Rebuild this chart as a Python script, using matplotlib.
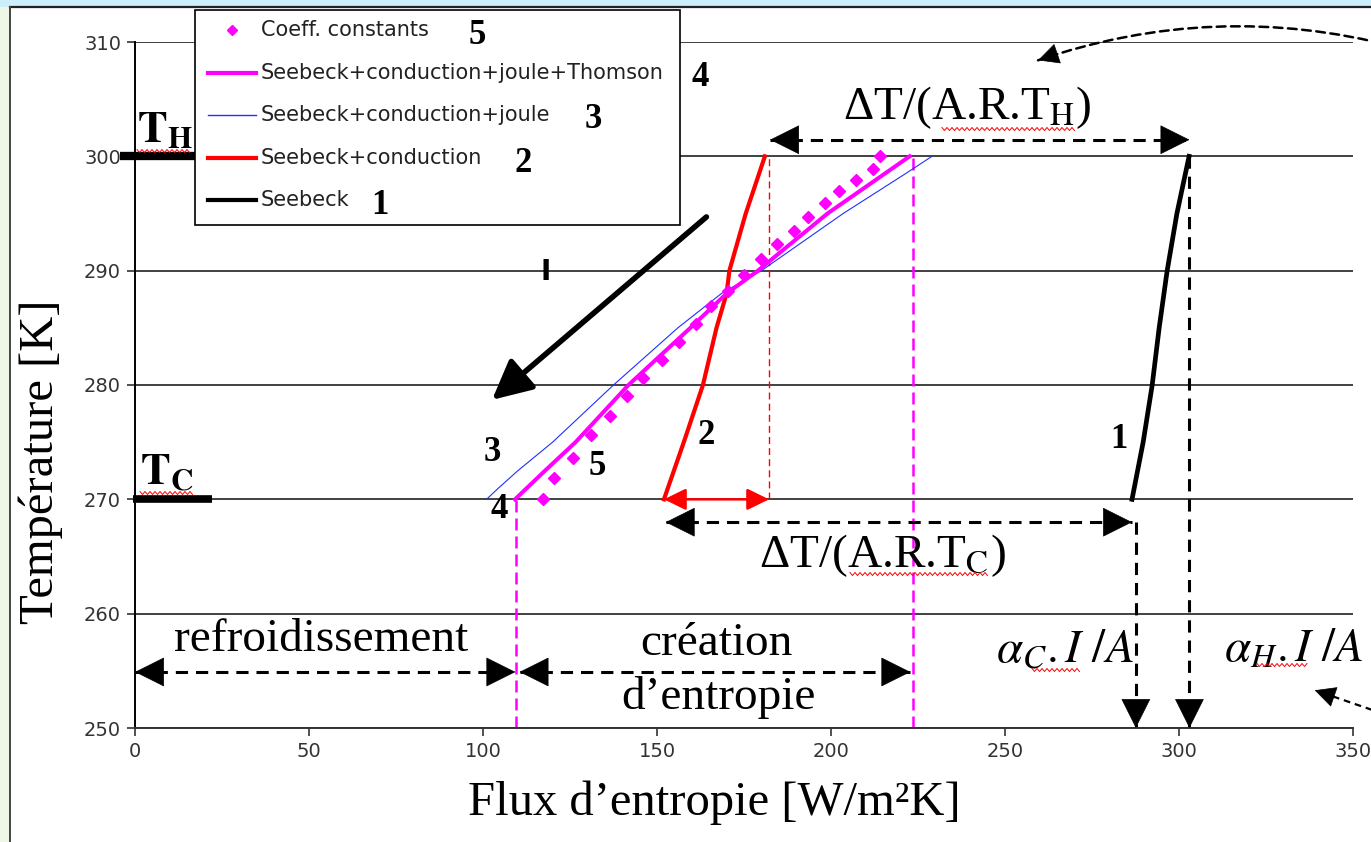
import numpy as np
import matplotlib.pyplot as plt
from matplotlib.patches import Rectangle
from matplotlib.lines import Line2D

plt.rcParams['mathtext.fontset'] = 'stix'

W, H = 1371, 842
SERIF = 'Liberation Serif'

# entropy flux [W/m2K] against temperature [K] for each model
t_seebeck = [270, 275, 280, 285, 290, 295, 300]
s_seebeck = [286.5, 289.7, 292.3, 294.3, 296.6, 299.4, 302.9]

t_cond = [270, 275, 280, 285, 288, 290, 295, 300]
s_cond = [152.0, 157.7, 163.2, 167.1, 170.0, 170.8, 175.5, 181.0]

t_joule = [270, 271, 272.5, 275, 280, 285, 288, 290, 295, 298.5, 300]
s_joule = [101.0, 104.5, 110.0, 120.0, 137.5, 156.0, 168.5, 180.0, 203.5, 221.5, 229.0]

t_thomson = [270, 272.5, 275, 280, 285, 288, 290, 295, 300]
s_thomson = [109.2, 117.8, 126.6, 141.8, 159.6, 170.0, 179.0, 199.0, 222.6]

t_const = [270, 271.9, 273.6, 275.6, 277.3, 279, 280.6, 282.2, 283.8, 285.3, 286.9,
           288.2, 289.6, 291, 292.3, 293.5, 294.7, 295.9, 297, 297.9, 298.9, 300]
s_const = [117.2, 120.5, 125.8, 131.0, 136.4, 141.4, 146.0, 151.3, 156.2, 161.2, 165.6,
           170.5, 175.0, 180.0, 184.4, 189.4, 193.3, 198.3, 202.3, 207.3, 212.0, 214.0]

T_hot, T_cold = 300, 270
x_ticks = [0, 50, 100, 150, 200, 250, 300, 350]
y_ticks = [250, 260, 270, 280, 290, 300, 310]

legend_labels = ['Coeff. constants', 'Seebeck+conduction+joule+Thomson',
                 'Seebeck+conduction+joule', 'Seebeck+conduction', 'Seebeck']
legend_numbers = ['5', '4', '3', '2', '1']


def px(x, y):
    """pixel position -> figure fraction"""
    return x / W, 1 - y / H


def squiggle(fig, x0, x1, y):
    xs = np.arange(x0, x1, 2.5)
    ys = y + np.where(np.arange(len(xs)) % 2, 1.5, -1.5)
    fig.add_artist(Line2D(xs / W, 1 - ys / H, transform=fig.transFigure,
                          color='red', lw=0.7, zorder=6))


def back_point(ax, tip, toward, dist):
    """point `dist` pixels from tip in the direction of `toward`"""
    p = ax.transData.transform(tip)
    q = ax.transData.transform(toward)
    u = (q - p) / np.hypot(*(q - p))
    return tuple(ax.transData.inverted().transform(p + u * dist))


def head(ax, tip, toward, length=0.5, width=0.25, scale=40, color='black'):
    back = back_point(ax, tip, toward, length * scale * 100 / 72)
    ax.annotate('', xy=tip, xytext=back, annotation_clip=False,
                arrowprops=dict(arrowstyle=f'-|>,head_length={length},head_width={width}',
                                color=color, lw=0.5, mutation_scale=scale,
                                shrinkA=0, shrinkB=0))


def dashed_arrow(ax, start, end, both=False):
    ax.plot([start[0], end[0]], [start[1], end[1]], color='black', lw=2.2,
            ls=(0, (4, 2.6)), clip_on=False)
    head(ax, end, start)
    if both:
        head(ax, start, end)


fig = plt.figure(figsize=(W / 100, H / 100), dpi=100)
fig.patch.set_facecolor('white')
ax = fig.add_axes([135 / W, 1 - 728 / H, 1218 / W, 686 / H])

ax.set_xlim(0, 350)
ax.set_ylim(250, 310)

# curves
ax.plot(s_seebeck, t_seebeck, color='black', lw=3.4, zorder=4)
ax.plot(s_cond, t_cond, color='red', lw=3.0, zorder=4)
ax.plot(s_joule, t_joule, color='#2030ff', lw=0.8, zorder=4)
ax.plot(s_thomson, t_thomson, color='magenta', lw=2.9, zorder=4)
ax.plot(s_const, t_const, ls='none', marker='D', ms=6.5, color='magenta', zorder=4)

ax.set_xticks(x_ticks)
ax.set_yticks(y_ticks)
ax.grid(axis='y', color='#333333', lw=1.3)
ax.set_axisbelow(True)
for side in ['top', 'right']:
    ax.spines[side].set_visible(False)
ax.spines['left'].set_color('black')
ax.spines['left'].set_linewidth(1.4)
ax.spines['bottom'].set_color('#333333')
ax.spines['bottom'].set_linewidth(1.4)
ax.tick_params(direction='out', length=6, width=1.2, color='#333333',
               labelsize=14, labelcolor='#333333', pad=4)

ax.set_xlabel('Flux d\u2019entropie [W/m\u00b2K]', fontfamily=SERIF, fontsize=35, va='baseline')
ax.xaxis.set_label_coords(0.476, -0.127)
ax.set_ylabel('Température [K]', fontfamily=SERIF, fontsize=35, va='center')
ax.yaxis.set_label_coords(-0.0772, 0.388)

# T_H / T_C markers on the temperature axis
ax.plot([-4.3, 17.8], [T_hot, T_hot], color='black', lw=6, solid_capstyle='butt', clip_on=False, zorder=5)
ax.plot([-0.6, 22.1], [T_cold, T_cold], color='black', lw=5.5, solid_capstyle='butt', clip_on=False, zorder=5)
ax.text(0.6, 300.5, r'$\mathbf{T_H}$', fontsize=32, ha='left', va='bottom')
ax.text(1.4, 270.5, r'$\mathbf{T_C}$', fontsize=32, ha='left', va='bottom')

# construction lines
ax.plot([109.5, 109.5], [250, 270], color='magenta', lw=1.8, ls=(0, (4.8, 2.4)))
ax.plot([223.5, 223.5], [250, 300], color='magenta', lw=1.8, ls=(0, (4.8, 2.4)))
ax.plot([182.2, 182.2], [270, 300], color='red', lw=1.0, ls=(0, (5, 3)))
ax.annotate('', xy=(182.2, 270), xytext=(152, 270),
            arrowprops=dict(arrowstyle='<|-|>,head_length=0.45,head_width=0.22',
                            color='red', lw=1.8, mutation_scale=30, shrinkA=0, shrinkB=0))

dashed_arrow(ax, (182.5, 301.45), (303, 301.45), both=True)
dashed_arrow(ax, (152.5, 268.0), (286.5, 268.0), both=True)
dashed_arrow(ax, (287.6, 268.0), (287.6, 250.0))
dashed_arrow(ax, (303.0, 300.0), (303.0, 250.0))
dashed_arrow(ax, (0.0, 254.9), (109.3, 254.9), both=True)
dashed_arrow(ax, (110.5, 254.9), (222.8, 254.9), both=True)

# current direction
ax.annotate('', xy=(102.6, 278.7), xytext=(164.2, 294.7),
            arrowprops=dict(arrowstyle='-|>,head_length=0.6,head_width=0.3',
                            color='black', lw=4, mutation_scale=40, shrinkA=0, shrinkB=0))
ax.text(118, 289.9, 'I', fontsize=20, fontweight='bold', ha='center', va='center')

# curved pointer at the top right edge
start, tip, rad = (362, 309.6), (259.5, 308.4), 0.15
ax.annotate('', xy=tip, xytext=start, annotation_clip=False,
            arrowprops=dict(arrowstyle='-', connectionstyle=f'arc3,rad={rad}',
                            color='black', lw=1.8, ls=(0, (3.5, 2.2)), shrinkA=0, shrinkB=0))
p0, p1 = ax.transData.transform(start), ax.transData.transform(tip)
d = p1 - p0
ctrl = ax.transData.inverted().transform((p0 + p1) / 2 + rad * np.array([d[1], -d[0]]))
head(ax, tip, tuple(ctrl), length=0.7, width=0.35, scale=20)

# pointer at the bottom right edge
ax.plot([362, 341], [250.9, 253.1], color='black', lw=1.6, ls=(0, (3, 2.2)), clip_on=False)
head(ax, (339, 253.3), (362, 250.9), length=0.7, width=0.35, scale=20)

# labels
big = dict(fontfamily=SERIF, fontsize=34, ha='center', va='center')
ax.text(239.3, 304.3, 'ΔT/(A.R.T$_{\\mathrm{H}}$)', **big)
ax.text(214.9, 265.1, 'ΔT/(A.R.T$_{\\mathrm{C}}$)', **big)
ax.text(267.3, 256.8, r'$\alpha_C.I\ /A$', **big)
ax.text(333.0, 256.8, r'$\alpha_H.I\ /A$', **big)
ax.text(53.6, 257.7, 'refroidissement', **big)
ax.text(167.0, 257.4, 'création', **big)
ax.text(167.6, 252.7, 'd\u2019entropie', **big)

num = dict(fontfamily=SERIF, fontsize=25, fontweight='bold', ha='center', va='center')
for x, t, s in [(282.8, 275.2, '1'), (164.2, 275.6, '2'), (102.6, 274.1, '3'),
                (132.7, 272.9, '5'), (104.6, 269.1, '4')]:
    ax.text(x, t, s, **num)

# legend box
x0, y0 = px(195, 225)
fig.add_artist(Rectangle((x0, y0), 485 / W, 215 / H, transform=fig.transFigure,
                         fc='white', ec='black', lw=1.2, zorder=5))
rows = [30, 73, 115, 158, 200]
number_x = [477, 700, 593, 523, 380]
styles = [None, ('magenta', 3.0), ('#2030ff', 1.0), ('red', 3.0), ('black', 3.0)]
for y, label, n, nx, style in zip(rows, legend_labels, legend_numbers, number_x, styles):
    if style is None:
        fig.add_artist(Line2D([232 / W], [1 - y / H], transform=fig.transFigure, ls='none',
                              marker='D', ms=5.5, color='magenta', zorder=6))
    else:
        fig.add_artist(Line2D([208 / W, 256 / W], [1 - y / H] * 2, transform=fig.transFigure,
                              color=style[0], lw=style[1], zorder=6))
    fig.text(261 / W, 1 - y / H, label, fontsize=15, color='#222222',
             ha='left', va='center', zorder=6)
    fig.text(nx / W, 1 - (y + 5) / H, n, zorder=6, **num)

# spell-check underlines
squiggle(fig, 137, 190, 151)
squiggle(fig, 140, 195, 493)
squiggle(fig, 942, 1076, 129)
squiggle(fig, 850, 989, 574)
squiggle(fig, 1032, 1080, 670)
squiggle(fig, 1257, 1308, 665)

# window frame
fig.add_artist(Rectangle(px(0, 7), 1, 7 / H, transform=fig.transFigure,
                         fc='#cdeffb', ec='none', zorder=1))
fig.add_artist(Rectangle((0, 0), 10 / W, 1 - 7 / H, transform=fig.transFigure,
                         fc='#eef7e6', ec='none', zorder=1))
fig.add_artist(Line2D([10 / W, 1], [1 - 7 / H] * 2, transform=fig.transFigure,
                      color='#222222', lw=1.6, zorder=1))
fig.add_artist(Line2D([10 / W] * 2, [0, 1 - 7 / H], transform=fig.transFigure,
                      color='#444444', lw=1.4, zorder=1))

fig.savefig('out.png', dpi=100)
